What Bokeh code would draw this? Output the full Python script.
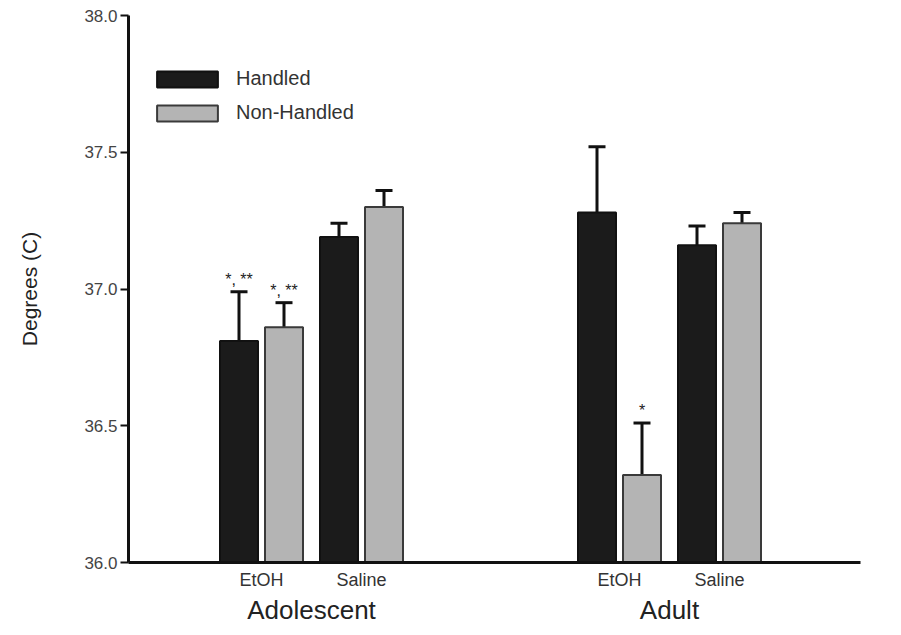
from bokeh.plotting import figure
from bokeh.models import (ColumnDataSource, Range1d, FixedTicker, LinearAxis,
                          Whisker, TeeHead, Legend, LegendItem, NumeralTickFormatter)
from bokeh.embed import file_html
from bokeh.resources import INLINE
from bokeh.core.properties import value

# ---- data ----
groups = ["Adolescent", "Adult"]
treatments = ["EtOH", "Saline"]
handled_mean = [36.81, 37.19, 37.28, 37.16]
handled_sem = [0.18, 0.05, 0.24, 0.07]
nonhandled_mean = [36.86, 37.30, 36.32, 37.24]
nonhandled_sem = [0.09, 0.06, 0.19, 0.04]
handled_marks = ["*, **", "", "", ""]
nonhandled_marks = ["*, **", "", "*", ""]
y_ticks = [36.0, 36.5, 37.0, 37.5, 38.0]

# ---- layout ----
group_start = [1.33, 4.91]
treat_step = 1.0
offset = 0.225
bar_w = 0.38

centers = []
tick_labels = {}
for gi, g in enumerate(groups):
    for ti, t in enumerate(treatments):
        c = group_start[gi] + ti * treat_step
        centers.append(c)
        tick_labels[c] = t
group_centers = [group_start[i] + treat_step / 2 for i in range(len(groups))]

def make_src(means, sems, marks, sign):
    xs = [c + sign * offset for c in centers]
    return ColumnDataSource(dict(
        x=xs, mean=means, top=[m + s for m, s in zip(means, sems)], mark=marks))

src_h = make_src(handled_mean, handled_sem, handled_marks, -1)
src_n = make_src(nonhandled_mean, nonhandled_sem, nonhandled_marks, +1)

p = figure(width=885, height=627, output_backend="svg", toolbar_location=None,
           x_range=Range1d(0, 7.32), y_range=Range1d(36.0, 38.0),
           min_border_left=128, min_border_right=25, min_border_top=15,
           min_border_bottom=60)
p.xaxis.visible = False
p.grid.visible = False
p.outline_line_color = None
p.background_fill_color = "white"

FONT = "Liberation Sans"

r_h = p.vbar(x="x", top="mean", bottom=36.0, width=bar_w, source=src_h,
             fill_color="#1b1b1b", line_color="#111111", line_width=2)
r_n = p.vbar(x="x", top="mean", bottom=36.0, width=bar_w, source=src_n,
             fill_color="#b4b4b4", line_color="#3a3a3a", line_width=2)

for src in (src_h, src_n):
    w = Whisker(source=src, base="x", upper="top", lower="mean",
                line_width=3, line_color="#111111", lower_head=None,
                upper_head=TeeHead(size=17, line_width=3, line_color="#111111"))
    p.add_layout(w)
    p.text(x="x", y="top", text="mark", source=src, text_align="center",
           text_baseline="bottom", y_offset=-4, text_font_size="16px",
           text_font=value(FONT), text_color="#222222")

# y axis
ya = p.yaxis[0]
ya.ticker = FixedTicker(ticks=y_ticks)
ya.formatter = NumeralTickFormatter(format="0.0")
ya.axis_line_width = 3
ya.axis_line_color = "#111111"
ya.major_tick_line_width = 2
ya.major_tick_line_color = "#111111"
ya.major_tick_out = 8
ya.major_tick_in = 0
ya.minor_tick_line_color = None
ya.major_label_standoff = 3
ya.major_label_text_font = FONT
ya.major_label_text_font_size = "17px"
ya.major_label_text_color = "#444444"
ya.axis_label = "Degrees (C)"
ya.axis_label_text_font = FONT
ya.axis_label_text_font_size = "21px"
ya.axis_label_text_font_style = "normal"
ya.axis_label_text_color = "#222222"
ya.axis_label_standoff = 40

# x axis with treatment labels
xa = LinearAxis(ticker=FixedTicker(ticks=centers),
                major_label_overrides={k: v for k, v in tick_labels.items()})
xa.axis_line_width = 3
xa.axis_line_color = "#111111"
xa.major_tick_line_color = None
xa.minor_tick_line_color = None
xa.major_label_text_font = FONT
xa.major_label_text_font_size = "18px"
xa.major_label_text_color = "#333333"
xa.major_label_standoff = 1
p.add_layout(xa, "below")

# group labels
ga = LinearAxis(ticker=FixedTicker(ticks=group_centers),
                major_label_overrides={group_centers[i]: groups[i] for i in range(len(groups))})
ga.axis_line_color = None
ga.major_tick_line_color = None
ga.minor_tick_line_color = None
ga.major_label_text_font = FONT
ga.major_label_text_font_size = "26px"
ga.major_label_text_color = "#222222"
ga.major_label_standoff = -4
p.add_layout(ga, "below")

legend = Legend(items=[LegendItem(label="Handled", renderers=[r_h]),
                       LegendItem(label="Non-Handled", renderers=[r_n])],
                location=(21, 438), glyph_width=76, glyph_height=20,
                spacing=11, padding=0, margin=0, label_standoff=11,
                label_text_font=FONT, label_text_font_size="20px",
                label_text_color="#333333", border_line_color=None,
                background_fill_alpha=0)
p.add_layout(legend, "center")

open("out.html", "w").write(file_html(p, INLINE))
